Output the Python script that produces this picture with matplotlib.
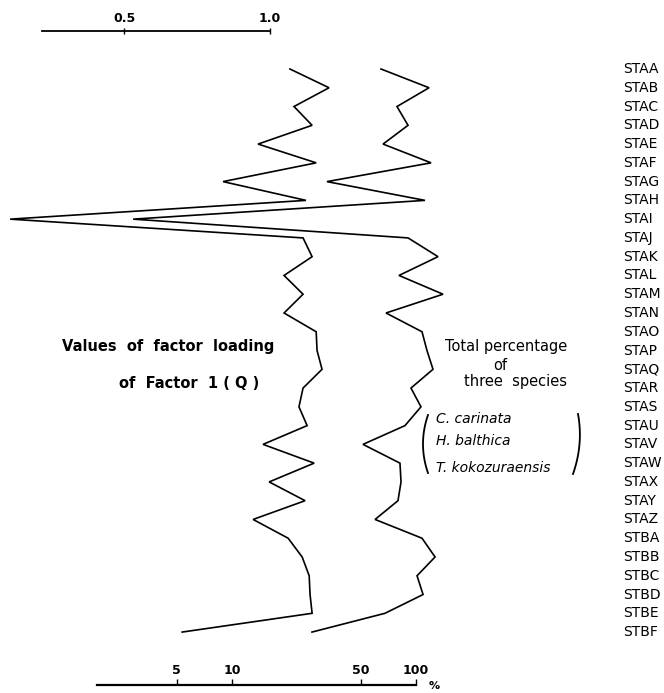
import matplotlib
matplotlib.use('Agg')
import matplotlib.pyplot as plt
import matplotlib.transforms as mtransforms
from matplotlib.lines import Line2D
from matplotlib.ticker import NullLocator
import numpy as np

# stations from top to bottom (no STAT in the original)
stations = ['STAA', 'STAB', 'STAC', 'STAD', 'STAE', 'STAF', 'STAG', 'STAH',
            'STAI', 'STAJ', 'STAK', 'STAL', 'STAM', 'STAN', 'STAO', 'STAP',
            'STAQ', 'STAR', 'STAS', 'STAU', 'STAV', 'STAW', 'STAX', 'STAY',
            'STAZ', 'STBA', 'STBB', 'STBC', 'STBD', 'STBE', 'STBF']

# values of factor loading of Factor 1 (Q), read against the top scale
factor_loading = [1.068, 1.202, 1.082, 1.144, 0.959, 1.158, 0.839, 1.123,
                  0.110, 1.113, 1.144, 1.048, 1.113, 1.048, 1.158, 1.161,
                  1.178, 1.113, 1.099, 1.127, 0.976, 1.151, 0.997, 1.120,
                  0.942, 1.062, 1.110, 1.134, 1.137, 1.144, 0.699]

# total percentage of the three species, read against the bottom log scale
total_pct = [64.5, 117.7, 78.8, 90.5, 66.2, 120.7, 32.8, 111.9,
             2.90, 90.5, 131.7, 80.8, 140.2, 68.7, 107.8, 114.7,
             123.7, 93.9, 106.4, 87.1, 51.5, 81.8, 82.9, 79.8,
             59.9, 107.8, 126.9, 101.3, 109.2, 67.8, 27.2]

top_ticks = [0.5, 1.0]
top_labels = ['0.5', '1.0']
bottom_ticks = [5, 10, 50, 100]
bottom_labels = ['5', '10', '50', '100']

W, H = 664, 693
fig = plt.figure(figsize=(W / 100, H / 100), dpi=100)
rect = [0, 1 - 685 / H, 1, 654 / H]
ax1 = fig.add_axes(rect)
ax2 = fig.add_axes(rect, sharey=ax1)
ax2.patch.set_visible(False)

ypos = list(range(len(stations)))
ax1.plot(factor_loading, ypos, color='black', lw=1.2, solid_joinstyle='miter')
ax2.plot(total_pct, ypos, color='black', lw=1.2, solid_joinstyle='miter')

ax2.set_xscale('log')
ax1.set_xlim(0.0753, 2.349)
ax2.set_xlim(0.548, 2228)
ax1.set_ylim(32.82, -2.024)

# top scale: factor loading
for s in ['bottom', 'left', 'right']:
    ax1.spines[s].set_visible(False)
ax1.spines['top'].set_bounds(0.219, 1.0)
ax1.spines['top'].set_linewidth(1.3)
ax1.xaxis.tick_top()
ax1.set_xticks(top_ticks)
ax1.set_xticklabels(top_labels, fontsize=9, fontweight='bold')
ax1.tick_params(axis='x', direction='inout', length=5, width=1, pad=2)
ax1.tick_params(axis='y', left=False, labelleft=False)

# bottom scale: percentage (log)
for s in ['top', 'left', 'right']:
    ax2.spines[s].set_visible(False)
ax2.spines['bottom'].set_bounds(1.846, 100)
ax2.spines['bottom'].set_linewidth(1.6)
ax2.set_xticks(bottom_ticks)
ax2.set_xticklabels(bottom_labels, fontsize=9, fontweight='bold')
ax2.xaxis.set_minor_locator(NullLocator())
ax2.tick_params(axis='x', direction='in', length=4, width=1, pad=-15)
ax2.tick_params(axis='y', left=False, labelleft=False)
ax2.text(434 / W, 1 - 686 / H, '%', transform=fig.transFigure,
         fontsize=8, fontweight='bold', ha='center', va='center')

# station names at the right
trans = mtransforms.blended_transform_factory(ax1.transAxes, ax1.transData)
for i, name in enumerate(stations):
    ax1.text(623 / W, i, name, transform=trans, fontsize=10,
             ha='left', va='center')

def fx(px):
    return px / W

def fy(py):
    return 1 - py / H

fig.text(fx(168), fy(347), 'Values  of  factor  loading', fontsize=10.5,
         fontweight='bold', ha='center', va='center')
fig.text(fx(189), fy(383), 'of  Factor  1 ( Q )', fontsize=10.5,
         fontweight='bold', ha='center', va='center')

fig.text(fx(506), fy(347), 'Total percentage', fontsize=10.5,
         ha='center', va='center')
fig.text(fx(500), fy(366), 'of', fontsize=10.5, ha='center', va='center')
fig.text(fx(516), fy(382), 'three  species', fontsize=10.5,
         ha='center', va='center')

for py, sp in [(419, 'C. carinata'), (441, 'H. balthica'),
               (468, 'T. kokozuraensis')]:
    fig.text(fx(436), fy(py), sp, fontsize=10, style='italic',
             ha='left', va='center')

# brackets around the species names
t = np.linspace(-1, 1, 40)
lx = 428 - 5 * (1 - t ** 2)
ly = 444 + 29 * t
fig.add_artist(Line2D(fx(lx), fy(ly), transform=fig.transFigure,
                      color='black', lw=1.3))
rx = 575.5 - 2.5 * t + 4 * (1 - t ** 2)
ry = 444 + 30 * t
fig.add_artist(Line2D(fx(rx), fy(ry), transform=fig.transFigure,
                      color='black', lw=1.3))

fig.savefig('out.png', dpi=100)
